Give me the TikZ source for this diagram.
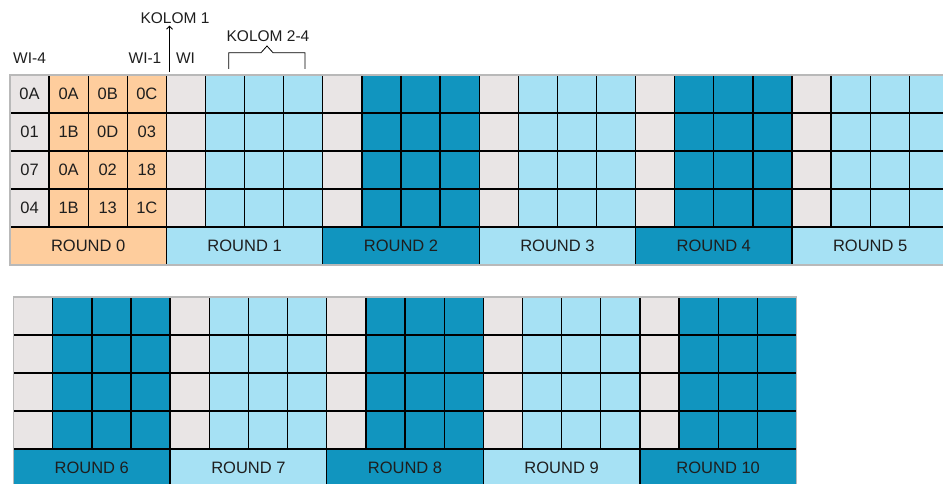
\documentclass[tikz,border=0pt]{standalone}
\usepackage{fontspec}
\setmainfont{Liberation Sans}
\usetikzlibrary{arrows.meta}
\definecolor{wabu}{HTML}{E9E5E5}
\definecolor{kbiru}{HTML}{A6E1F4}
\definecolor{tbiru}{HTML}{1195BF}
\definecolor{oranye}{HTML}{FECD9D}
\definecolor{teks}{HTML}{1E1E1E}
\tikzset{
  sel/.style={draw=black,line width=1.3pt,outer sep=0pt,inner sep=0pt,
    minimum width=39.1pt,minimum height=38pt,text=teks,
    font=\fontsize{16.5}{18}\selectfont},
  rnd/.style={sel,minimum width=156.4pt},
  ket/.style={inner sep=0pt,text=teks,font=\fontsize{15.5}{17}\selectfont},
  bingkai/.style={draw=gray!55,line width=1.3pt},
}
\begin{document}
\begin{tikzpicture}[x=1pt,y=1pt,>={Straight Barb[length=3pt,width=6pt]}]
\clip (0,0) rectangle (943,483);
% round 0 with its key bytes
\foreach \r/\a/\b/\c/\d in {0/0A/0A/0B/0C,1/01/1B/0D/03,2/07/0A/02/18,3/04/1B/13/1C} {
  \node[sel,fill=wabu] (t-0-\r-0) at (29.55,{389-38*\r}) {\a};
  \node[sel,fill=oranye] (t-0-\r-1) at (68.65,{389-38*\r}) {\b};
  \node[sel,fill=oranye] (t-0-\r-2) at (107.75,{389-38*\r}) {\c};
  \node[sel,fill=oranye] (t-0-\r-3) at (146.85,{389-38*\r}) {\d};
}
\node[rnd,fill=oranye] (r0) at (88.2,237) {ROUND 0};
% rounds 1-5, upper band
\foreach \k/\warna in {1/kbiru,2/tbiru,3/kbiru,4/tbiru,5/kbiru} {
  \foreach \r in {0,...,3} {
    \node[sel,fill=wabu] (t-\k-\r-0) at ({29.55+156.4*\k},{389-38*\r}) {};
    \foreach \j in {1,2,3}
      \node[sel,fill=\warna] (t-\k-\r-\j) at ({29.55+156.4*\k+39.1*\j},{389-38*\r}) {};
  }
  \node[rnd,fill=\warna] (r\k) at ({88.2+156.4*\k},237) {ROUND \k};
}
\draw[bingkai] (t-0-0-0.north west) rectangle (r5.south east);
% rounds 6-10, lower band
\foreach \k/\warna in {6/tbiru,7/kbiru,8/tbiru,9/kbiru,10/tbiru} {
  \foreach \r in {0,...,3} {
    \node[sel,fill=wabu] (b-\k-\r-0) at ({33.1+156.6*(\k-6)},{167-38*\r}) {};
    \foreach \j in {1,2,3}
      \node[sel,fill=\warna] (b-\k-\r-\j) at ({33.1+156.6*(\k-6)+39.15*\j},{167-38*\r}) {};
  }
  \node[rnd,minimum width=156.6pt,fill=\warna] (r\k) at ({91.8+156.6*(\k-6)},15) {ROUND \k};
}
\draw[bingkai] (b-6-0-0.north west) rectangle (r10.south east);
% labels above the key
\node[ket] (wi4) at (29.55,425) {WI-4};
\node[ket] (wi1) at (145,425) {WI-1};
\node[ket] (wi) at (185.5,425) {WI};
\node[ket] (kolom1) at (175,465) {KOLOM 1};
\coordinate (pangkal) at (169.5,411);
\draw[->,line width=0.8pt] (pangkal) -- ([yshift=-2pt]pangkal |- kolom1.south);
\node[ket] (kolom24) at (268,447) {KOLOM 2-4};
\draw[line width=0.8pt] (228.7,414) -- (228.7,430.3) -- (261,430.3) -- (267,437)
  -- (273,430.3) -- (305,430.3) -- (305,414);
\end{tikzpicture}
\end{document}
